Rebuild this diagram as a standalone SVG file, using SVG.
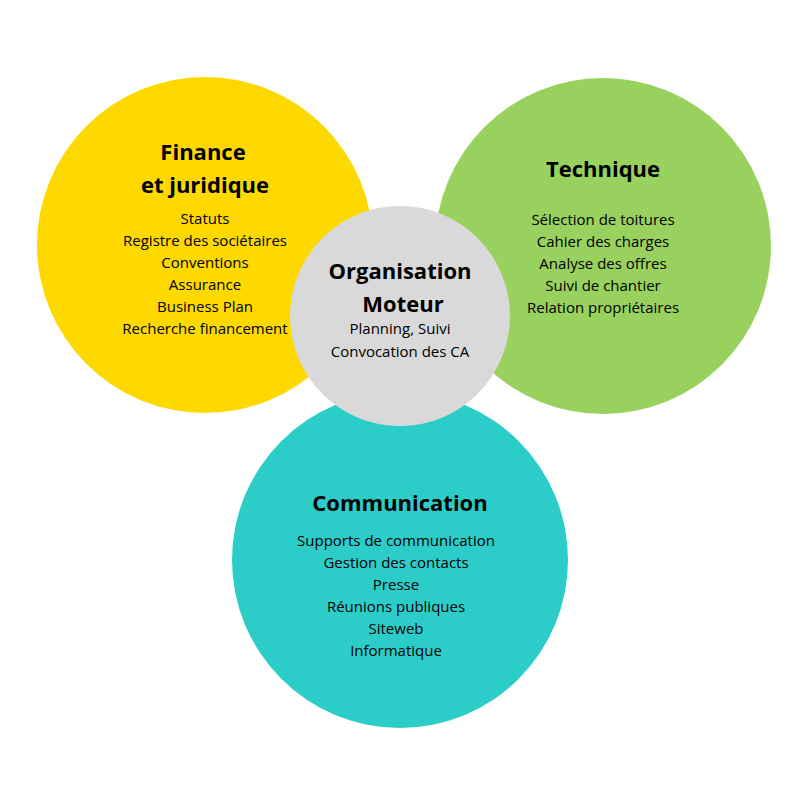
<svg xmlns="http://www.w3.org/2000/svg" width="800" height="800" viewBox="0 0 800 800">
<style>
.t{font-family:"Open Sans","Noto Sans",sans-serif;font-weight:bold;font-size:22px;fill:#000;text-anchor:middle}
.i{font-family:"Open Sans","Noto Sans",sans-serif;font-size:15px;fill:#000;text-anchor:middle}
</style>
<rect width="800" height="800" fill="#fff"/>
<g id="finance">
<circle cx="205" cy="245" r="168" fill="#FDD900"/>
<text class="t" x="203" y="160">Finance</text>
<text class="t" x="205" y="193">et juridique</text>
<text class="i" x="205" y="224">Statuts</text>
<text class="i" x="205" y="246">Registre des sociétaires</text>
<text class="i" x="205" y="268">Conventions</text>
<text class="i" x="205" y="290">Assurance</text>
<text class="i" x="205" y="312">Business Plan</text>
<text class="i" x="205" y="334">Recherche financement</text>
</g>
<g id="technique">
<circle cx="603" cy="246" r="168" fill="#99D15F"/>
<text class="t" x="603" y="177">Technique</text>
<text class="i" x="603" y="225">Sélection de toitures</text>
<text class="i" x="603" y="247">Cahier des charges</text>
<text class="i" x="603" y="269">Analyse des offres</text>
<text class="i" x="603" y="291">Suivi de chantier</text>
<text class="i" x="603" y="313">Relation propriétaires</text>
</g>
<g id="communication">
<circle cx="400" cy="560" r="168" fill="#2CCDC9"/>
<text class="t" x="400" y="511">Communication</text>
<text class="i" x="396" y="546">Supports de communication</text>
<text class="i" x="396" y="568">Gestion des contacts</text>
<text class="i" x="396" y="590">Presse</text>
<text class="i" x="396" y="612">Réunions publiques</text>
<text class="i" x="396" y="634">Siteweb</text>
<text class="i" x="396" y="656">Informatique</text>
</g>
<g id="organisation">
<circle cx="400" cy="316" r="110" fill="#D9D9D9"/>
<text class="t" x="400" y="279">Organisation</text>
<text class="t" x="403" y="312">Moteur</text>
<text class="i" x="400" y="334">Planning, Suivi</text>
<text class="i" x="400" y="357">Convocation des CA</text>
</g>
<g id="connectors"/>
</svg>
